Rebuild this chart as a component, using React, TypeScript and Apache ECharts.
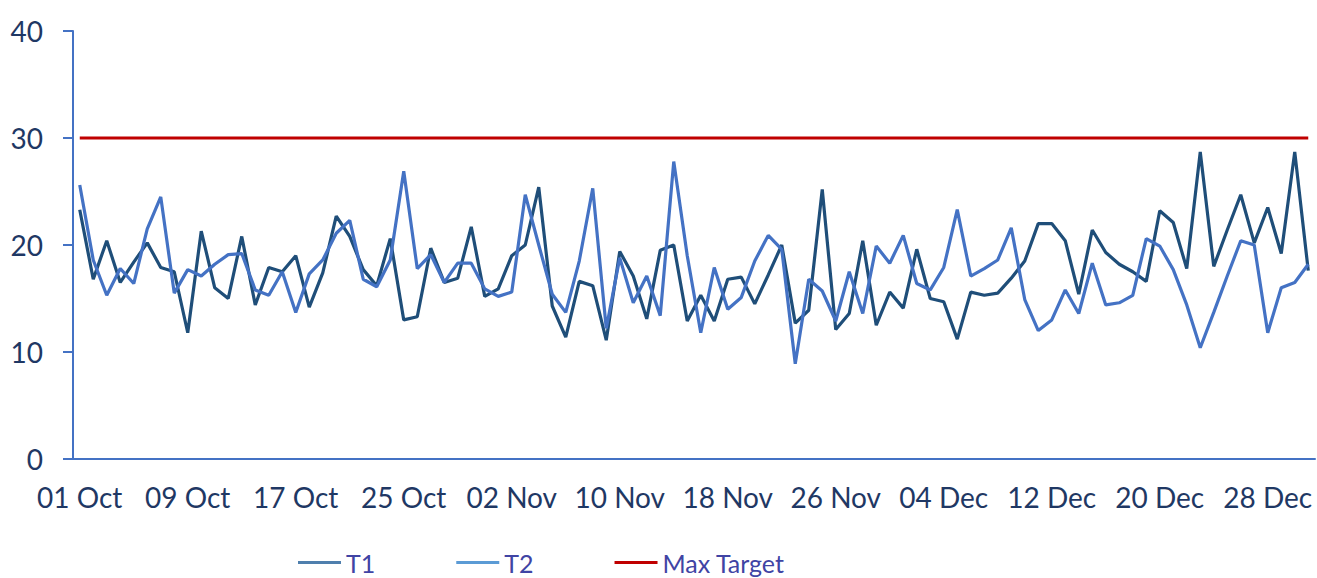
import React, { useEffect, useRef } from "react";
import * as echarts from "echarts";

const months = ["Oct", "Nov", "Dec"];
const monthDays = [31, 30, 31];

const t1Values = [
  23.3, 16.8, 20.4, 16.5, 18.4, 20.2, 17.9, 17.5, 11.8, 21.3,
  16.0, 15.0, 20.8, 14.4, 17.9, 17.5, 19.0, 14.2, 17.4, 22.7,
  20.8, 17.7, 16.2, 20.6, 13.0, 13.3, 19.7, 16.5, 16.9, 21.7,
  15.2, 15.9, 19.0, 20.0, 25.4, 14.3, 11.4, 16.6, 16.2, 11.1,
  19.4, 17.1, 13.1, 19.5, 20.0, 12.9, 15.3, 12.9, 16.8, 17.0,
  14.5, 17.2, 20.0, 12.7, 13.9, 25.2, 12.1, 13.6, 20.4, 12.5,
  15.6, 14.1, 19.6, 15.0, 14.7, 11.2, 15.6, 15.3, 15.5, 16.9,
  18.5, 22.0, 22.0, 20.4, 15.4, 21.4, 19.3, 18.2, 17.5, 16.6,
  23.2, 22.1, 17.8, 28.7, 18.0, 21.4, 24.7, 20.2, 23.5, 19.2,
  28.7, 17.6,
];

const t2Values = [
  25.6, 18.6, 15.3, 17.8, 16.4, 21.5, 24.5, 15.5, 17.7, 17.1,
  18.2, 19.1, 19.2, 15.8, 15.3, 17.5, 13.7, 17.3, 18.6, 21.1,
  22.3, 16.8, 16.1, 18.6, 26.9, 17.8, 19.1, 16.5, 18.3, 18.3,
  15.9, 15.2, 15.6, 24.7, 20.0, 15.4, 13.7, 18.5, 25.3, 12.2,
  18.8, 14.6, 17.1, 13.4, 27.8, 19.0, 11.8, 17.9, 14.0, 15.1,
  18.5, 20.9, 19.6, 8.9, 16.8, 15.7, 12.9, 17.5, 13.6, 19.9,
  18.3, 20.9, 16.4, 15.8, 17.9, 23.3, 17.1, 17.8, 18.6, 21.6,
  14.9, 12.0, 13.0, 15.8, 13.6, 18.3, 14.4, 14.6, 15.3, 20.6,
  19.9, 17.7, 14.4, 10.4, 13.7, 17.1, 20.4, 20.0, 11.8, 16.0,
  16.5, 18.2,
];

const maxTargetValue = 30;
const yTicks = [0, 10, 20, 30, 40];

const categories: string[] = [];
months.forEach((m, mi) => {
  for (let d = 1; d <= monthDays[mi]; d++) {
    categories.push(`${d < 10 ? "0" + d : d} ${m}`);
  }
});
const maxTargetValues = categories.map(() => maxTargetValue);

const FONT = "Lato";

export default function App() {
  const ref = useRef<HTMLDivElement>(null);
  useEffect(() => {
    if (!ref.current) return;
    const chart = echarts.init(ref.current, undefined, { renderer: "svg" });
    chart.setOption({
      animation: false,
      textStyle: { fontFamily: FONT },
      grid: { left: 73, right: 2, top: 31, bottom: 119, containLabel: false },
      legend: {
        left: 298,
        top: 550,
        padding: 0,
        icon: "rect",
        itemWidth: 43,
        itemHeight: 3,
        itemGap: 81,
        textStyle: { color: "#4044a4", fontSize: 25, fontFamily: FONT },
        data: [
          { name: "T1", itemStyle: { color: "#4f7fad" } },
          { name: "T2", itemStyle: { color: "#5b9bd5" } },
          { name: "Max Target", itemStyle: { color: "#c00000" } },
        ],
      },
      xAxis: {
        type: "category",
        data: categories,
        boundaryGap: true,
        axisLine: { lineStyle: { color: "#4472c4", width: 2 } },
        axisTick: { interval: 7, length: 10, lineStyle: { color: "#4472c4", width: 2 } },
        axisLabel: {
          interval: 7,
          color: "#1f3864",
          fontSize: 28,
          fontFamily: FONT,
          margin: 24,
        },
        splitLine: { show: false },
      },
      yAxis: {
        type: "value",
        min: yTicks[0],
        max: yTicks[yTicks.length - 1],
        interval: 10,
        axisLine: { show: true, lineStyle: { color: "#4472c4", width: 2 } },
        axisTick: { show: true, length: 10, lineStyle: { color: "#4472c4", width: 2 } },
        axisLabel: { color: "#1f3864", fontSize: 28, fontFamily: FONT, margin: 30 },
        splitLine: { show: false },
      },
      series: [
        {
          name: "T1",
          type: "line",
          data: t1Values,
          symbol: "none",
          lineStyle: { color: "#1f4e79", width: 3.2 },
          itemStyle: { color: "#1f4e79" },
        },
        {
          name: "T2",
          type: "line",
          data: t2Values,
          symbol: "none",
          lineStyle: { color: "#4472c4", width: 3.2 },
          itemStyle: { color: "#4472c4" },
        },
        {
          name: "Max Target",
          type: "line",
          data: maxTargetValues,
          symbol: "none",
          lineStyle: { color: "#c00000", width: 3 },
          itemStyle: { color: "#c00000" },
        },
      ],
    });
    return () => chart.dispose();
  }, []);
  return (
    <div
      ref={ref}
      style={{ position: "absolute", left: 0, top: 0, width: 1317, height: 578 }}
    />
  );
}
